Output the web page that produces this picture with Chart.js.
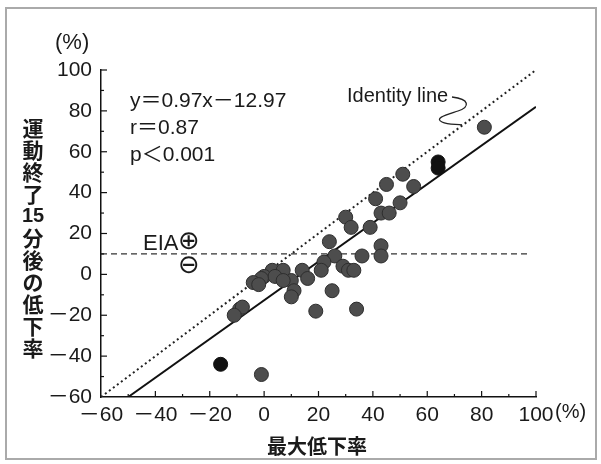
<!DOCTYPE html>
<html>
<head>
<meta charset="utf-8">
<script src="https://cdn.jsdelivr.net/npm/chart.js@4"></script>
<style>
  html, body { margin: 0; padding: 0; background: #fff; }
  #wrap { width: 601px; height: 464px; position: relative; }
</style>
</head>
<body>
<div id="wrap"><canvas id="chart-eia" width="601" height="464"></canvas></div>
<script>
  /* ===================== DATA ===================== */

  // 最大低下率 (x) と 運動終了15分後の低下率 (y)
  const grayX = [81, 51, 45, 55, 41, 50, 43, 46, 39, 30, 32, 24, 43, 43, 36, 26, 22, 21, 29, 31, 33,
                 14, 16, 10, 11, 10, 3, 7, 0, 4, 7, -1, -4, -2, -9, -8, -11, 25, 19, 34, -1];
  const grayY = [72, 49, 44, 43, 37, 35, 30, 30, 23, 28, 23, 16, 14, 9, 9, 9, 6, 2, 4, 2, 2,
                 2, -2, -3, -8, -11, 2, 2, -1, -1, -3, -2, -4, -5, -17, -16, -20, -8, -18, -17, -49];
  const blackX = [64, 64, -16];
  const blackY = [55, 52, -44];

  const identityX = [-60, 100];
  const identityY = [-60, 100];
  const fitX = [-50, 100];
  const fitY = [-60, 82];
  const eiaX = [-60, 97];
  const eiaY = [10, 10];

  const xTicks = [-60, -40, -20, 0, 20, 40, 60, 80, 100];
  const yTicks = [-60, -40, -20, 0, 20, 40, 60, 80, 100];

  const yTitle = ["運", "動", "終", "了", "15", "分", "後", "の", "低", "下", "率"];

  /* ===================== HELPERS ===================== */

  const toPts = (xs, ys) => xs.map((x, i) => ({ x, y: ys[i] }));
  const fmt = v => (v < 0 ? "\uFF0D" + Math.abs(v) : String(v));
  const NUM = "'Liberation Sans', 'Noto Sans CJK JP', sans-serif";
  const CJK = "'Noto Sans CJK JP', sans-serif";

  /* ===================== PLUGIN ===================== */

  let decor = {
    id: "decor",
    beforeDraw(chart) {
      const c = chart.ctx;
      c.save();
      c.fillStyle = "#fff";
      c.fillRect(0, 0, chart.width, chart.height);
      c.restore();
    },
    afterDraw(chart) {
      const c = chart.ctx;
      const xs = chart.scales.x, ys = chart.scales.y;
      const a = chart.chartArea;
      c.save();

      // inward ticks
      c.strokeStyle = "#111";
      c.lineWidth = 1.2;
      for (let v = -50; v <= 100; v += 10) {
        const len = v % 20 === 0 ? 6 : 3;
        const px = xs.getPixelForValue(v);
        c.beginPath(); c.moveTo(px, a.bottom); c.lineTo(px, a.bottom - len); c.stroke();
        const py = ys.getPixelForValue(v);
        c.beginPath(); c.moveTo(a.left, py); c.lineTo(a.left + len, py); c.stroke();
      }

      // frame
      c.strokeStyle = "#aaa";
      c.lineWidth = 2;
      c.strokeRect(6, 8, 590, 451);

      c.fillStyle = "#1a1a1a";
      c.textBaseline = "middle";
      c.textAlign = "left";

      // (%) labels
      c.font = "22px " + NUM;
      c.fillText("(%)", 55, 43);
      c.font = "20px " + NUM;
      c.fillText("(%)", xs.getPixelForValue(100) + 19, xs.bottom - 52);

      // equation
      c.font = "21px " + NUM;
      c.fillText("y\uFF1D0.97x\uFF0D12.97", 130, 101);
      c.fillText("r\uFF1D0.87", 130, 128);
      c.fillText("p\uFF1C0.001", 130, 155);

      // identity label + squiggle
      c.font = "20px " + NUM;
      c.fillText("Identity line", 347, 96);
      c.strokeStyle = "#222";
      c.lineWidth = 1.3;
      c.beginPath();
      c.moveTo(452, 97);
      c.bezierCurveTo(470, 99, 470, 107, 458, 111);
      c.bezierCurveTo(446, 115, 434, 118, 442, 122);
      c.bezierCurveTo(448, 125, 456, 124, 462, 125);
      c.stroke();

      // EIA
      c.font = "22px " + NUM;
      c.fillText("EIA", 143, 244);
      c.font = "26px 'DejaVu Sans', sans-serif";
      c.textAlign = "center";
      c.fillText("\u2295", 189, 242);
      c.fillText("\u2296", 189, 266);

      // y title (vertical stack)
      yTitle.forEach((ch, i) => {
        c.font = ch === "15" ? "bold 20px " + NUM : "bold 21px " + CJK;
        c.fillText(ch, 33, 128 + i * 22);
      });

      // x title
      c.font = "bold 20px " + CJK;
      c.fillText("最大低下率", 317, 446);

      c.restore();
    }
  };

  /* ===================== CHART ===================== */

  let ctx = document.getElementById("chart-eia").getContext("2d");

  let chart = new Chart(ctx, {
    type: "scatter",
    data: {
      datasets: [
        {
          label: "gray",
          data: toPts(grayX, grayY),
          backgroundColor: "#4d4d4d",
          borderColor: "#2e2e2e",
          borderWidth: 1,
          pointRadius: 7,
          order: 0
        },
        {
          label: "black",
          data: toPts(blackX, blackY),
          backgroundColor: "#111",
          borderColor: "#111",
          borderWidth: 1,
          pointRadius: 7,
          order: 0
        },
        {
          label: "identity",
          type: "line",
          data: toPts(identityX, identityY),
          borderColor: "#222",
          borderWidth: 2,
          borderDash: [2, 3],
          pointRadius: 0,
          order: 2
        },
        {
          label: "fit",
          type: "line",
          data: toPts(fitX, fitY),
          borderColor: "#111",
          borderWidth: 2,
          pointRadius: 0,
          order: 2
        },
        {
          label: "eia",
          type: "line",
          data: toPts(eiaX, eiaY),
          borderColor: "#333",
          borderWidth: 1.3,
          borderDash: [6, 4],
          pointRadius: 0,
          order: 2
        }
      ]
    },
    options: {
      responsive: false,
      animation: false,
      events: [],
      layout: { padding: { left: 0, top: 70, right: 65, bottom: 0 } },
      plugins: { legend: { display: false }, tooltip: { enabled: false } },
      scales: {
        x: {
          type: "linear",
          min: -60, max: 100,
          afterFit: s => { s.height = 67; },
          afterBuildTicks: s => { s.ticks = xTicks.map(v => ({ value: v })); },
          grid: { display: false, drawTicks: false },
          border: { display: true, color: "#111", width: 1.5 },
          ticks: {
            padding: 6,
            color: "#1a1a1a",
            maxRotation: 0,
            font: { family: NUM, size: 21 },
            callback: v => fmt(v)
          }
        },
        y: {
          type: "linear",
          min: -60, max: 100,
          afterFit: s => { s.width = 101; },
          afterBuildTicks: s => { s.ticks = yTicks.map(v => ({ value: v })); },
          grid: { display: false, drawTicks: false },
          border: { display: true, color: "#111", width: 1.5 },
          ticks: {
            padding: 9,
            color: "#1a1a1a",
            font: { family: NUM, size: 21 },
            callback: v => fmt(v)
          }
        }
      }
    },
    plugins: [decor]
  });
</script>
</body>
</html>
